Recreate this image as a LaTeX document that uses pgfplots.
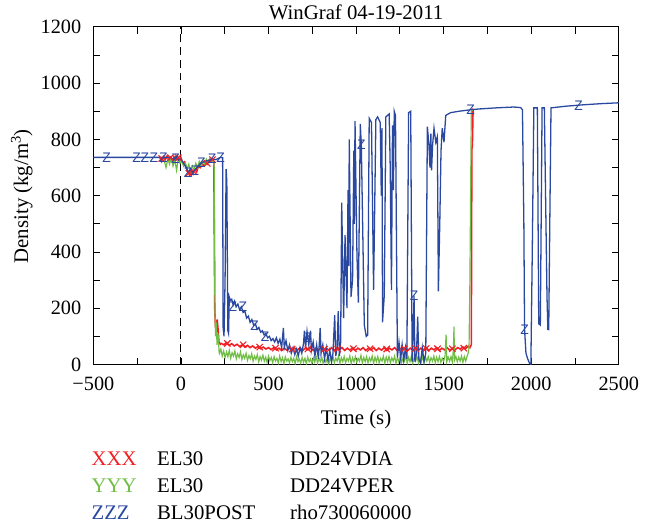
\documentclass[border=0pt]{standalone}
\usepackage{fontspec}
\setmainfont{Liberation Serif}
\newfontfamily\markfont{Liberation Sans}
\usepackage{pgfplots}
\pgfplotsset{compat=1.18}
\definecolor{cred}{RGB}{240,32,36}
\definecolor{cgreen}{RGB}{112,190,70}
\definecolor{cblue}{RGB}{42,72,160}
\begin{document}
\fontsize{21}{25}\selectfont
\begin{tikzpicture}
\begin{axis}[
  at={(0,0)}, anchor=south west,
  width=529bp, height=340bp, scale only axis,
  xmin=-500, xmax=2500, ymin=0, ymax=1200,
  xtick={-500,0,...,2500},
  xticklabels={−500,0,500,1000,1500,2000,2500},
  minor xtick={-250,250,750,1250,1750,2250},
  ytick={0,200,...,1200},
  yticklabels={0,200,400,600,800,1000,1200},
  minor ytick={100,300,...,1100},
  /pgf/number format/assume math mode=true,
  tick align=inside,
  major tick length=7bp, minor tick length=7bp,
  every tick/.style={black, line width=0.8bp},
  axis line style={black, line width=0.9bp},
  xticklabel style={font=\fontsize{20.5}{24}\selectfont, yshift=-5bp},
  yticklabel style={font=\fontsize{20.5}{24}\selectfont, xshift=-5bp},
  clip=true,
]
% dashed reference at t = 0
\addplot[black, line width=1bp, dash pattern=on 8bp off 5bp] coordinates {(0,0) (0,1200)};
% XXX  EL30 DD24VDIA (red)
\addplot[cred, line width=1.6bp, no marks] coordinates {
(-120,735) (-110,722) (-100,738) (-90,728) (-80,740) (-70,725) (-60,735) (-50,722) (-40,738) (-30,726) (-20,740) (-10,728) (0,735) (10,715) (20,720) (30,700) (40,685) (50,672) (60,690) (70,678) (80,695) (90,685) (100,705) (110,700) (120,712) (130,708) (140,718) (150,712) (160,725) (170,720) (180,728) (188,722) (193,200) (197,135) (202,120) (207,160) (212,125) (217,80) (225,72)
(230,75) (245,70) (260,78) (275,68) (290,74) (305,66) (320,72) (335,64) (350,70) (365,62) (380,68) (395,60) (410,66) (425,58) (440,64) (455,56) (470,62) (485,55) (500,60) (515,53) (530,60) (545,52) (560,58) (575,50) (590,58) (605,51) (620,59) (635,50) (650,58) (665,51) (680,60) (695,50) (710,58) (725,52) (740,60) (755,50) (770,58) (785,52) (800,60) (815,50) (830,58) (845,51) (860,60) (875,50) (890,58) (905,52) (920,60) (935,50) (950,58) (965,51) (980,60) (995,50) (1010,58) (1025,52) (1040,60) (1055,50) (1070,58) (1085,52) (1100,60) (1115,50) (1130,58) (1145,51) (1160,60) (1175,50) (1190,58) (1205,52) (1220,60) (1235,50) (1250,58) (1265,52) (1280,60) (1295,50) (1310,58) (1325,51) (1340,60) (1355,50) (1370,58) (1385,52) (1400,60) (1415,50) (1430,58) (1445,52) (1460,60) (1475,50) (1490,58) (1505,52) (1520,60) (1535,50) (1550,58) (1565,52) (1580,60) (1595,55) (1610,62) (1625,56) (1640,65) (1650,60) (1658,70) (1661,765) (1664,780) (1668,906) (1670,905)
};
\addplot[cred, only marks, mark=x, mark size=4.5bp, line width=1.1bp] coordinates {
(-110,732) (-60,735) (-15,735) (45,680) (75,685) (150,715) (180,728) (265,75) (355,70) (450,62) (540,58) (635,55) (725,55) (820,55) (895,55) (985,56) (1080,56) (1175,55) (1275,56) (1340,57) (1400,57) (1465,56) (1550,56) (1615,58)
};
% YYY  EL30 DD24VPER (green)
\addplot[cgreen, line width=1.2bp, no marks] coordinates {
(-95,725) (-85,700) (-75,730) (-65,712) (-55,735) (-45,705) (-35,728) (-25,690) (-15,732) (-5,715) (5,725) (15,705) (25,718) (35,695) (45,712) (55,688) (65,705) (75,690) (85,715) (95,700) (105,722) (115,705) (125,725) (135,712) (145,730) (155,718) (165,732) (175,722) (185,728) (190,700) (194,200) (198,100) (202,150) (206,70) (212,110) (218,45)
(220,40) (228,55) (236,30) (244,48) (252,25) (260,45) (268,28) (276,50) (284,22) (292,42) (300,30) (308,48) (316,20) (324,38) (332,25) (340,45) (348,18) (356,35) (364,22) (372,40) (380,15) (388,32) (396,20) (404,38) (412,12) (420,30) (428,18) (436,35) (444,10) (452,28) (460,15) (468,33) (476,12) (484,26) (492,8) (500,30) (508,14) (516,25) (524,6) (532,28) (540,12) (548,22) (556,5) (564,30) (572,10) (580,24) (588,4) (596,27) (604,12) (612,20) (620,6) (628,25) (636,10) (644,22) (652,3) (660,28) (668,10) (676,20) (684,5) (692,25) (700,8) (708,22) (716,3) (724,26) (732,10) (740,20) (748,4) (756,24) (764,8) (772,28) (780,5) (788,22) (796,10) (804,26) (812,4) (820,20) (828,8) (836,25) (844,3) (852,22) (860,10) (868,28) (876,6) (884,22) (892,12) (900,30) (908,5) (916,24) (924,10) (932,28) (940,6) (948,22) (956,12) (964,30) (972,4) (980,24) (988,10) (996,28) (1004,8) (1012,22) (1020,12) (1028,32) (1036,5) (1044,25) (1052,10) (1060,28) (1068,6) (1076,24) (1084,12) (1092,30) (1100,4) (1108,26) (1116,10) (1124,28) (1132,6) (1140,22) (1148,12) (1156,30) (1164,5) (1172,26) (1180,10) (1188,28) (1196,6) (1204,24) (1212,12) (1220,30) (1228,4) (1236,25) (1244,10) (1252,28) (1260,8) (1268,22) (1276,12) (1284,32) (1292,5) (1300,25) (1308,10) (1316,30) (1324,4) (1332,26) (1340,12) (1348,28) (1356,6) (1364,24) (1372,10) (1380,30) (1388,5) (1396,26) (1404,12) (1412,28) (1420,8) (1428,24) (1436,12) (1444,30) (1452,6) (1460,26) (1468,10) (1476,28) (1484,8) (1492,22) (1500,12) (1508,30) (1514,106) (1518,10) (1526,26) (1534,12) (1542,28) (1550,8) (1556,60) (1559,135) (1562,15) (1570,28) (1578,10) (1586,26) (1594,12) (1602,30) (1610,8) (1618,28) (1626,12) (1634,30) (1640,40) (1645,60) (1650,300) (1654,612) (1658,900) (1665,905)
};
% ZZZ  BL30POST rho730060000 (blue)
\addplot[cblue, line width=1.3bp, no marks] coordinates {
(-500,736) (-300,736) (-100,736) (-60,736) (-45,728) (-30,738) (-15,726) (0,730) (15,715) (30,700) (41,682) (55,692) (70,682) (79,690) (95,702) (117,716) (140,722) (160,726) (178,730) (200,728) (215,733) (227,736) (238,735) (241,130) (246,100) (252,300) (258,694) (262,650) (268,120) (272,110) (276,240) (282,228) (290,232) (298,212) (306,225) (315,205) (325,215) (335,195) (345,205) (355,185) (365,190) (375,165) (385,172) (395,150) (405,160) (415,140) (425,145) (435,125) (445,132) (455,115) (465,120) (475,105) (485,110) (495,95) (505,100) (515,85) (525,92) (535,80) (545,95) (555,75) (565,90) (575,60) (585,130) (590,60) (600,85) (610,50) (620,70) (630,40) (640,60) (650,35) (660,55) (670,30) (680,60) (690,40) (700,75) (705,120) (712,60) (720,118) (730,70) (740,120) (745,50) (755,80) (765,30) (775,70) (785,20) (795,130) (800,40) (810,70) (820,20) (830,60) (840,15) (850,50) (860,10) (868,40) (878,175) (884,30) (892,60) (898,190) (905,30) (912,80) (918,575) (929,165) (937,460) (948,200) (954,620) (958,350) (961,800) (971,240) (980,300) (987,760) (990,500) (994,865) (1005,390) (1013,220) (1024,855) (1030,780) (1047,140) (1058,100) (1066,105) (1075,875) (1088,860) (1100,265) (1113,870) (1123,880) (1138,860) (1144,600) (1148,840) (1151,150) (1161,245) (1170,880) (1189,890) (1195,700) (1202,265) (1208,850) (1213,620) (1218,900) (1225,885) (1236,25) (1245,80) (1255,20) (1263,70) (1272,15) (1282,60) (1290,20) (1300,895) (1312,900) (1320,10) (1326,100) (1331,245) (1336,10) (1345,40) (1352,170) (1358,20) (1368,5) (1378,60) (1388,10) (1398,40) (1407,845) (1415,790) (1422,700) (1427,820) (1431,690) (1437,780) (1445,840) (1455,790) (1464,810) (1470,260) (1478,505) (1485,760) (1492,840) (1502,790) (1512,885) (1525,890) (1540,895) (1588,900) (1650,905) (1700,908) (1800,912) (1900,915) (1940,913) (1950,905) (1958,500) (1962,125) (1970,40) (1980,20) (1990,5) (1998,0) (2006,400) (2015,912) (2035,912) (2043,145) (2052,140) (2062,912) (2075,912) (2082,600) (2090,245) (2095,125) (2100,124) (2106,500) (2113,912) (2200,918) (2300,923) (2400,927) (2500,930)
};
\addplot[cblue, only marks, mark=text, text mark={\color{cblue}\markfont\fontsize{14}{14}\selectfont Z}] coordinates {
(-425,736) (-253,736) (-206,736) (-154,736) (-101,736) (-31,733) (41,680) (79,688) (117,716) (178,730) (227,736) (297,205) (354,205) (421,137) (480,98) (725,95) (1030,780) (1331,245) (1654,905) (1962,125) (2271,920)
};
\end{axis}
% title and axis labels
\node[anchor=base, inner sep=0] at (264.5bp,347bp) {WinGraf 04-19-2011};
\node[anchor=base, inner sep=0] at (264.5bp,-60bp) {Time (s)};
\node[anchor=center, inner sep=0, rotate=90] at (-72bp,169.5bp) {Density (kg/m\textsuperscript{3})};
% series key below the plot
\node[anchor=base west, inner sep=0, text=cred]   at (-2bp,-101.5bp) {XXX};
\node[anchor=base west, inner sep=0]              at (64bp,-101.5bp) {EL30};
\node[anchor=base west, inner sep=0]              at (198bp,-101.5bp) {DD24VDIA};
\node[anchor=base west, inner sep=0, text=cgreen] at (-2bp,-128.5bp) {YYY};
\node[anchor=base west, inner sep=0]              at (64bp,-128.5bp) {EL30};
\node[anchor=base west, inner sep=0]              at (198bp,-128.5bp) {DD24VPER};
\node[anchor=base west, inner sep=0, text=cblue]  at (-2bp,-156bp) {ZZZ};
\node[anchor=base west, inner sep=0]              at (64bp,-156bp) {BL30POST};
\node[anchor=base west, inner sep=0]              at (198bp,-156bp) {rho730060000};
\path (-94bp,-162bp) rectangle (552bp,367bp);
\end{tikzpicture}
\end{document}
